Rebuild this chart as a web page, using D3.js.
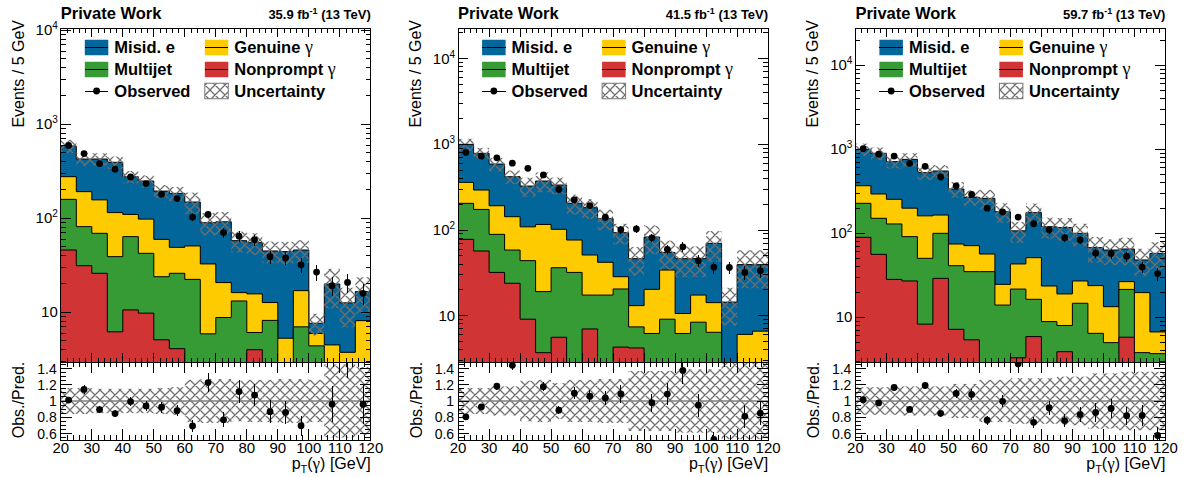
<!DOCTYPE html>
<html><head><meta charset="utf-8">
<script src="https://cdn.jsdelivr.net/npm/d3@7"></script>
<style>
body{margin:0;background:#fff}
svg{display:block}
text{font-family:"Liberation Sans",Arial,Helvetica,sans-serif;fill:#000}
.greek{font-family:"Liberation Serif","DejaVu Serif",serif;font-weight:normal}
</style>
</head><body>
<svg id="c" width="1187" height="477"></svg>
<script>
// ---------------- data ----------------
const binLow = [20,25,30,35,40,45,50,55,60,65,70,75,80,85,90,95,100,105,110,115];
const binWidth = 5;
const xTickValues = [20,30,40,50,60,70,80,90,100,110,120];
const ratioTickValues = [0.6,0.8,1,1.2,1.4];
const lumiLabels = ["35.9","41.5","59.7"];
const yRangeTop = [[2.96,10570],[2.88,22800],[2.94,27800]];
const ratioRange = [0.52,1.48];

// 2016 (35.9 fb-1)
const misid2016     = [311,235,270,279,167,151,135,135,98,57,71,41.6,39.3,32.2,38.9,29,1.7,15.5,8.85,8.45];
const genuine2016   = [118,110.5,87.8,75.9,46.2,55.6,35.8,23.1,28.4,26.8,11.9,3.0,9.6,4.5,3.3,10.0,1.55,2.7,2.45,6.75];
const multijet2016  = [113,50.2,43.2,32.9,53.2,32.6,18.8,21.9,20.4,4.4,7.6,11.7,2.1,7.2,1.5,6.0,3.9,1.5,1.0,1.2];
const nonprompt2016 = [46,31.3,26,6.2,10.6,9.8,5.1,4.1,2.0,1.5,1.2,1.5,4.0,1.0,0.5,1.0,0.5,0.3,0.3,0.2];
const observed2016  = [595,488,382,333,275,234,180,162,103,110,70.5,64.5,59,39,38,32,26.8,19.2,20.8,15.9];
const unc2016       = [0.16,0.16,0.15,0.15,0.15,0.15,0.16,0.17,0.26,0.27,0.27,0.25,0.26,0.26,0.27,0.27,0.26,0.45,0.45,0.42];

// 2017 (41.5 fb-1)
const misid2017     = [640,492,397,276,217,257,233,129,131,94,64.5,33.2,62.5,20.7,35.7,28.9,55.7,11.9,33.4,32.8];
const genuine2017   = [155,119,103,84.6,65,97,65.7,44.4,33.7,24.6,8.0,5.7,14.1,25,4.4,9.0,7.8,0.5,4.05,4.6];
const multijet2017  = [127,117,57,34.5,34.8,15.4,30.7,30.5,10.4,15.9,16.2,3.2,5.2,8.1,5.2,7.6,5.6,1.5,1.5,1.5];
const nonprompt2017 = [77.8,56.9,32.0,23.9,9.1,3.7,5.6,1.5,7.0,1.5,4.3,4.2,1.0,1.0,1.0,0.8,0.8,0.5,0.5,0.5];
const observed2017  = [805,727,696,603,525,439,297,225,193,141,101,103,81,59.5,63.7,43.9,36.8,36.6,32,33.5];
const unc2017       = [0.16,0.16,0.18,0.18,0.25,0.26,0.22,0.26,0.26,0.27,0.27,0.37,0.37,0.37,0.39,0.39,0.39,0.47,0.47,0.47];

// 2018 (59.7 fb-1)
const misid2018     = [631,602,459,561,366,387,262,197,204,156,63.8,125,96.4,98,72.9,43.7,49.9,38.5,28.5,51];
const genuine2018   = [141,143,125,108,111,65,33.4,36.3,21.7,10.7,21.5,34.9,14.7,11.0,12.4,17.4,8.4,5.1,15.9,3.0];
const multijet2018  = [138,94.8,101,64.2,42.1,70.9,34,29.6,33,12.5,18.4,10.5,7.4,4.1,13.7,5.45,4.0,15.7,3.3,3.2];
const nonprompt2018 = [89.6,56.2,28.3,27.1,8.3,29.1,7.2,5.4,2.0,1.5,3.3,5.9,1.5,3.9,1.0,1.0,1.0,5.8,0.5,0.5];
const observed2018  = [1015,875,832,681,628,468,368,290,199,180,156,130,110,88.8,83.3,58,57.5,53.3,39.6,33.2];
const unc2018       = [0.17,0.17,0.17,0.18,0.18,0.18,0.21,0.21,0.26,0.26,0.28,0.28,0.28,0.3,0.3,0.34,0.34,0.36,0.36,0.36];

const legendNames = {misid:["Misid. e",""], genuine:["Genuine ","γ"], multijet:["Multijet",""], nonprompt:["Nonprompt ","γ"]};

// ---------------- styles ----------------
const colors = {misid:"#03669b", genuine:"#fecb00", multijet:"#379b35", nonprompt:"#d13434"};
const W = 310, TOP = 28, MID = 362, BOT = 440;

const panels = [
  {lumi:lumiLabels[0], yr:yRangeTop[0], misid:misid2016, genuine:genuine2016, multijet:multijet2016, nonprompt:nonprompt2016, obs:observed2016, unc:unc2016},
  {lumi:lumiLabels[1], yr:yRangeTop[1], misid:misid2017, genuine:genuine2017, multijet:multijet2017, nonprompt:nonprompt2017, obs:observed2017, unc:unc2017},
  {lumi:lumiLabels[2], yr:yRangeTop[2], misid:misid2018, genuine:genuine2018, multijet:multijet2018, nonprompt:nonprompt2018, obs:observed2018, unc:unc2018}
];

const svg = d3.select("#c");
const defs = svg.append("defs");
const pat = defs.append("pattern").attr("id","hatch").attr("patternUnits","userSpaceOnUse")
  .attr("width",10).attr("height",10);
pat.append("path").attr("d","M0,0L10,10M10,0L0,10M-2,8L2,12M8,-2L12,2M-2,2L2,-2M8,12L12,8")
  .attr("stroke","#6f6f6f").attr("stroke-width",1.25).attr("fill","none");

function tick(g,x1,y1,x2,y2){
  g.append("line").attr("x1",x1).attr("y1",y1).attr("x2",x2).attr("y2",y2)
   .attr("stroke","#000").attr("stroke-width",1).attr("shape-rendering","crispEdges");
}

panels.forEach((p,i)=>{
  const L = 60.8 + i*397.3;
  const g = svg.append("g");
  const x = d3.scaleLinear().domain([20,120]).range([L,L+W]);
  const y = d3.scaleLog().domain(p.yr).range([MID,TOP]);
  const yr = d3.scaleLinear().domain(ratioRange).range([BOT,MID]);

  const rows = binLow.map((b,j)=>({x:b, nonprompt:p.nonprompt[j], multijet:p.multijet[j], genuine:p.genuine[j], misid:p.misid[j]}));
  const stacked = d3.stack().keys(["nonprompt","multijet","genuine","misid"])(rows);
  const total = stacked[3].map(d=>d[1]);

  defs.append("clipPath").attr("id","ct"+i).append("rect").attr("x",L).attr("y",TOP).attr("width",W).attr("height",MID-TOP);
  defs.append("clipPath").attr("id","cr"+i).append("rect").attr("x",L).attr("y",MID).attr("width",W).attr("height",BOT-MID);

  const plot = g.append("g").attr("clip-path",`url(#ct${i})`);
  stacked.slice().reverse().forEach(layer=>{
    const pts = layer.map((d,j)=>({x:binLow[j], v:d[1]}));
    pts.push({x:binLow[binLow.length-1]+binWidth, v:pts[pts.length-1].v});
    const area = d3.area().x(d=>x(d.x)).y0(MID+10).y1(d=>Math.min(y(d.v),MID+10)).curve(d3.curveStepAfter);
    const line = d3.line().x(d=>x(d.x)).y(d=>Math.min(y(d.v),MID+10)).curve(d3.curveStepAfter);
    plot.append("path").attr("d",area(pts)).attr("fill",colors[layer.key]);
    plot.append("path").attr("d",line(pts)).attr("fill","none").attr("stroke","#000").attr("stroke-width",1);
  });
  // uncertainty band (top)
  binLow.forEach((b,j)=>{
    const t = total[j], u = p.unc[j];
    plot.append("rect").attr("x",x(b)).attr("width",x(b+binWidth)-x(b))
      .attr("y",y(t*(1+u))).attr("height",Math.max(0,y(t*(1-u))-y(t*(1+u))))
      .attr("fill","url(#hatch)");
  });
  // observed points (top)
  binLow.forEach((b,j)=>{
    const o = p.obs[j], e = Math.sqrt(o), cx = x(b+binWidth/2);
    tick(plot,cx,y(o+e),cx,y(o-e));
    plot.append("circle").attr("cx",cx).attr("cy",y(o)).attr("r",3.4).attr("fill","#000");
  });

  // ratio panel
  const rp = g.append("g").attr("clip-path",`url(#cr${i})`);
  binLow.forEach((b,j)=>{
    const u = p.unc[j];
    rp.append("rect").attr("x",x(b)).attr("width",x(b+binWidth)-x(b))
      .attr("y",yr(1+u)).attr("height",yr(1-u)-yr(1+u)).attr("fill","url(#hatch)");
  });
  rp.append("line").attr("x1",L).attr("x2",L+W).attr("y1",yr(1)).attr("y2",yr(1))
    .attr("stroke","#7f7f7f").attr("stroke-width",1.6);
  binLow.forEach((b,j)=>{
    const o = p.obs[j], t = total[j], r = o/t, e = Math.sqrt(o)/t, cx = x(b+binWidth/2);
    tick(rp,cx,yr(r+e),cx,yr(r-e));
    rp.append("circle").attr("cx",cx).attr("cy",yr(r)).attr("r",3.4).attr("fill","#000");
  });

  // frames
  g.append("rect").attr("x",L).attr("y",TOP).attr("width",W).attr("height",MID-TOP)
    .attr("fill","none").attr("stroke","#000").attr("stroke-width",1).attr("shape-rendering","crispEdges");
  g.append("rect").attr("x",L).attr("y",MID).attr("width",W).attr("height",BOT-MID)
    .attr("fill","none").attr("stroke","#000").attr("stroke-width",1).attr("shape-rendering","crispEdges");

  // x ticks
  d3.range(20,121,2).forEach(v=>{
    const major = v%10===0, xx = x(v);
    const lt = major?9:4.5, lr = major?11:5;
    tick(g,xx,MID,xx,MID-lt); tick(g,xx,TOP,xx,TOP+lt);
    tick(g,xx,BOT,xx,BOT-lr); tick(g,xx,MID,xx,MID+lr);
  });
  // log y ticks
  const [ymin,ymax] = p.yr;
  for(let k=Math.floor(Math.log10(ymin));k<=Math.ceil(Math.log10(ymax));k++){
    for(let m=1;m<=9;m++){
      const v = m*Math.pow(10,k);
      if(v<ymin||v>ymax) continue;
      const yy = y(v), len = m===1?10:5;
      tick(g,L,yy,L+len,yy); tick(g,L+W,yy,L+W-len,yy);
    }
  }
  // ratio y ticks
  for(let k=11;k<=29;k++){
    const v = k*0.05, yy = yr(v), len = k%4===0?11:5.5;
    tick(g,L,yy,L+len,yy); tick(g,L+W,yy,L+W-len,yy);
  }

  // tick labels
  xTickValues.forEach(v=>{
    g.append("text").attr("x",x(v)).attr("y",453).attr("text-anchor","middle")
      .attr("font-size",15).text(v);
  });
  for(let k=1;k<=4;k++){
    const v = Math.pow(10,k);
    if(v<ymin||v>ymax) continue;
    const t = g.append("text").attr("x",L-3).attr("y",y(v)+5).attr("text-anchor","end").attr("font-size",15);
    t.append("tspan").text("10");
    if(k>1) t.append("tspan").attr("font-size",10).attr("dy",-6).text(k);
  }
  ratioTickValues.forEach(v=>{
    g.append("text").attr("x",L-4).attr("y",yr(v)+5).attr("text-anchor","end")
      .attr("font-size",14).text(v);
  });

  // axis titles
  g.append("text").attr("transform",`translate(${L-37},20) rotate(-90)`).attr("text-anchor","end")
    .attr("font-size",16).text("Events / 5 GeV");
  g.append("text").attr("transform",`translate(${L-36.5},400) rotate(-90)`).attr("text-anchor","middle")
    .attr("font-size",16).text("Obs./Pred.");
  const xt = g.append("text").attr("x",L+W).attr("y",469).attr("text-anchor","end").attr("font-size",16);
  xt.append("tspan").text("p");
  xt.append("tspan").attr("font-size",11).attr("dy",4).text("T");
  xt.append("tspan").attr("dy",-4).text("(");
  xt.append("tspan").attr("class","greek").attr("font-size",17).text("γ");
  xt.append("tspan").text(") [GeV]");

  // header
  g.append("text").attr("x",L).attr("y",19).attr("font-size",16.5).attr("font-weight","bold").text("Private Work");
  const lt = g.append("text").attr("x",L+W).attr("y",19).attr("text-anchor","end").attr("font-size",13).attr("font-weight","bold");
  lt.append("tspan").text(p.lumi+" fb");
  lt.append("tspan").attr("font-size",9).attr("dy",-5).text("-1");
  lt.append("tspan").attr("dy",5).text(" (13 TeV)");

  // legend
  const items = [
    {col:0,row:0,key:"misid"},{col:1,row:0,key:"genuine"},
    {col:0,row:1,key:"multijet"},{col:1,row:1,key:"nonprompt"}
  ];
  const rowsY = [47.5,69.5,91];
  const colX = [L+24,L+144];
  items.forEach(it=>{
    const bx = colX[it.col], cy = rowsY[it.row];
    g.append("rect").attr("x",bx).attr("y",cy-7.75).attr("width",23.5).attr("height",15.5).attr("fill",colors[it.key]);
    tick(g,bx,cy,bx+23.5,cy);
    const tx = g.append("text").attr("x",bx+29.5).attr("y",cy+5.5).attr("font-size",16.5).attr("font-weight","bold");
    tx.append("tspan").text(legendNames[it.key][0]);
    if(legendNames[it.key][1]) tx.append("tspan").attr("class","greek").attr("font-size",18).text(legendNames[it.key][1]);
  });
  {
    const bx = colX[0], cy = rowsY[2];
    tick(g,bx,cy,bx+23.5,cy);
    g.append("circle").attr("cx",bx+11.75).attr("cy",cy).attr("r",3.4).attr("fill","#000");
    g.append("text").attr("x",bx+29.5).attr("y",cy+5.5).attr("font-size",16.5).attr("font-weight","bold").text("Observed");
    const ux = colX[1];
    g.append("rect").attr("x",ux).attr("y",cy-7.75).attr("width",23.5).attr("height",15.5)
      .attr("fill","url(#hatch)").attr("stroke","#777").attr("stroke-width",1);
    g.append("text").attr("x",ux+29.5).attr("y",cy+5.5).attr("font-size",16.5).attr("font-weight","bold").text("Uncertainty");
  }
});
</script>
</body></html>
